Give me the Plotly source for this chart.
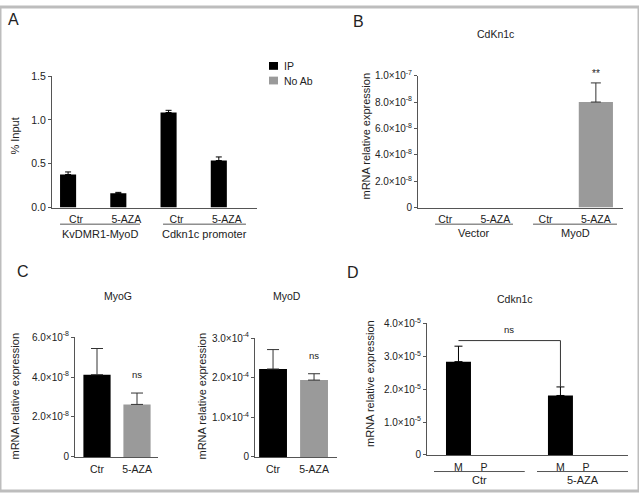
import plotly.graph_objects as go

W, H = 639, 497
def px(x): return x / W
def py(y): return 1 - y / H

FONT = "Liberation Sans, Arial, sans-serif"
TXT = "#222"
AX = "#555"
BLACK = "#000000"
GRAY = "#9a9a9a"

# ---------------- data ----------------
# Panel A (ChIP, % input)
a_cats = ["KvDMR1-MyoD Ctr", "KvDMR1-MyoD 5-AZA", "Cdkn1c promoter Ctr", "Cdkn1c promoter 5-AZA"]
a_ticks = ["Ctr", "5-AZA", "Ctr", "5-AZA"]
a_groups = ["KvDMR1-MyoD", "Cdkn1c promoter"]
a_series = ["IP", "No Ab"]
a_ip = [0.378, 0.163, 1.085, 0.537]
a_ip_err = [0.029, 0.011, 0.025, 0.041]
a_noab = [0.0, 0.0, 0.0, 0.0]
a_yticks = [0.0, 0.5, 1.0, 1.5]
a_yticktext = ["0.0", "0.5", "1.0", "1.5"]

# Panel B (CdKn1c mRNA)
b_cats = ["Vector Ctr", "Vector 5-AZA", "MyoD Ctr", "MyoD 5-AZA"]
b_ticks = ["Ctr", "5-AZA", "Ctr", "5-AZA"]
b_groups = ["Vector", "MyoD"]
b_vals = [0.0, 0.0, 0.0, 8.0e-8]
b_err = [None, None, None, 1.45e-8]
b_yticks = [0, 2e-8, 4e-8, 6e-8, 8e-8, 1e-7]
b_yticktext = ["0", "2.0×10<sup>-8</sup>", "4.0×10<sup>-8</sup>", "6.0×10<sup>-8</sup>",
               "8.0×10<sup>-8</sup>", "1.0×10<sup>-7</sup>"]

# Panel C (MyoG, MyoD mRNA)
c_cats = ["Ctr", "5-AZA"]
c_myog = [4.12e-8, 2.63e-8]
c_myog_err = [1.31e-8, 0.57e-8]
c_myod = [2.22e-4, 1.94e-4]
c_myod_err = [0.49e-4, 0.16e-4]
c1_yticks = [0, 2e-8, 4e-8, 6e-8]
c1_yticktext = ["0", "2.0×10<sup>-8</sup>", "4.0×10<sup>-8</sup>", "6.0×10<sup>-8</sup>"]
c2_yticks = [0, 1e-4, 2e-4, 3e-4]
c2_yticktext = ["0", "1.0×10<sup>-4</sup>", "2.0×10<sup>-4</sup>", "3.0×10<sup>-4</sup>"]

# Panel D (Cdkn1c allelic mRNA)
d_cats = ["Ctr M", "Ctr P", "5-AZA M", "5-AZA P"]
d_order = ["Ctr M", "Ctr P", " ", "  ", "5-AZA M", "5-AZA P"]
d_ticks = ["M", "P", "M", "P"]
d_groups = ["Ctr", "5-AZA"]
d_vals = [2.84e-5, 0.0, 1.81e-5, 0.0]
d_err = [0.47e-5, None, 0.26e-5, None]
d_bracket = 3.48e-5
d_yticks = [0, 1e-5, 2e-5, 3e-5, 4e-5]
d_yticktext = ["0", "1.0×10<sup>-5</sup>", "2.0×10<sup>-5</sup>", "3.0×10<sup>-5</sup>", "4.0×10<sup>-5</sup>"]

# ---------------- figure ----------------
fig = go.Figure()

def add_bars(cats, vals, errs, colors, xa, ya, width, errcolor, capw, name=None, offset=None):
    """Bars with an upward-only error bar; points without an error value get none."""
    groups = [[i for i, e in enumerate(errs) if e is not None],
              [i for i, e in enumerate(errs) if e is None]]
    for k, idx in enumerate(groups):
        if not idx:
            continue
        kw = {}
        if k == 0:
            kw["error_y"] = dict(type="data", array=[errs[i] for i in idx],
                                 arrayminus=[0] * len(idx), symmetric=False,
                                 color=errcolor, thickness=1, width=capw)
        if offset is not None:
            kw["offset"] = offset
        fig.add_trace(go.Bar(x=[cats[i] for i in idx], y=[vals[i] for i in idx],
                             marker=dict(color=[colors[i] for i in idx], line=dict(width=0)),
                             width=width, xaxis=xa, yaxis=ya, showlegend=False,
                             name=name, **kw))

# A
add_bars(a_cats, a_ip, a_ip_err, [BLACK] * 4, "x", "y", 0.32, BLACK, 3, name=a_series[0], offset=-0.32)
add_bars(a_cats, a_noab, [None] * 4, [GRAY] * 4, "x", "y", 0.32, GRAY, 3, name=a_series[1], offset=0)
# B
add_bars(b_cats, b_vals, b_err, [GRAY] * 4, "x2", "y2", 0.68, "#333", 5)
# C
add_bars(c_cats, c_myog, c_myog_err, [BLACK, GRAY], "x3", "y3", 0.68, "#333", 6)
add_bars(c_cats, c_myod, c_myod_err, [BLACK, GRAY], "x4", "y4", 0.68, "#333", 6)
# D
add_bars(d_cats, d_vals, d_err, [BLACK] * 4, "x5", "y5", 0.98, BLACK, 4)

def xax(dom, anchor, cats, ticks, rng, order=None, size=10.5):
    return dict(domain=[px(dom[0]), px(dom[1])], anchor=anchor, type="category",
                categoryorder="array", categoryarray=order if order else cats,
                tickvals=cats, ticktext=ticks, range=rng, showline=True, linecolor=AX,
                linewidth=1, ticks="", showgrid=False, zeroline=False, fixedrange=True,
                tickfont=dict(family=FONT, size=size, color=TXT), ticklabelstandoff=2)

def yax(dom, anchor, rng, tv, tt, size=10):
    return dict(domain=[py(dom[1]), py(dom[0])], anchor=anchor, range=rng, tickvals=tv,
                ticktext=tt, showline=True, linecolor=AX, linewidth=1, ticks="outside",
                ticklen=3, tickcolor=AX, showgrid=False, zeroline=False, fixedrange=True,
                tickfont=dict(family=FONT, size=size, color=TXT))

fig.update_layout(
    xaxis=xax([52, 257], "y", a_cats, a_ticks, [-0.48, 3.6]),
    yaxis=yax([71, 206], "x", [0, 1.5], a_yticks, a_yticktext, size=10.5),
    xaxis2=xax([418, 623], "y2", b_cats, b_ticks, [-0.54, 3.54]),
    yaxis2=yax([70.5, 206], "x2", [0, 1e-7], b_yticks, b_yticktext),
    xaxis3=xax([75, 158], "y3", c_cats, c_cats, [-0.55, 1.525]),
    yaxis3=yax([339, 462], "x3", [0, 6e-8], c1_yticks, c1_yticktext),
    xaxis4=xax([255, 337], "y4", c_cats, c_cats, [-0.44, 1.56]),
    yaxis4=yax([340, 462], "x4", [0, 3e-4], c2_yticks, c2_yticktext),
    xaxis5=xax([427, 628], "y5", d_cats, d_ticks, [-1.235, 6.65], order=d_order),
    yaxis5=yax([325, 460], "x5", [0, 4e-5], d_yticks, d_yticktext),
)

shapes = []
ann = []

def underline(xref, x0, x1, y):
    shapes.append(dict(type="line", xref=xref, yref="paper", x0=x0, x1=x1, y0=py(y), y1=py(y),
                       line=dict(color=AX, width=1)))

def text(t, x, y, size=10.5, xref="paper", yref="paper", angle=0, xanchor="center", yanchor="middle"):
    ann.append(dict(text=t, x=x, y=y, xref=xref, yref=yref, showarrow=False, textangle=angle,
                    xanchor=xanchor, yanchor=yanchor, font=dict(family=FONT, size=size, color=TXT)))

# A group underlines and labels
underline("x", -0.32, 1.27, 223); underline("x", 1.73, 3.38, 223)
text(a_groups[0], (-0.32 + 1.27) / 2, py(233), size=11, xref="x")
text(a_groups[1], (1.73 + 3.38) / 2, py(233), size=11, xref="x")
# B
underline("x2", -0.2, 1.35, 223); underline("x2", 1.75, 3.42, 223)
text(b_groups[0], (-0.2 + 1.35) / 2, py(232), size=11, xref="x2")
text(b_groups[1], (1.75 + 3.42) / 2, py(232), size=11, xref="x2")
# D
underline("x5", -0.96, 2.6, 477); underline("x5", 3.08, 6.65, 477)
text(d_groups[0], (-0.96 + 2.6) / 2, py(486), size=11, xref="x5")
text(d_groups[1], (3.08 + 6.65) / 2, py(486), size=11, xref="x5")

# D bracket
shapes.append(dict(type="line", xref="x5", yref="y5", x0=0, x1=4, y0=d_bracket, y1=d_bracket,
                   line=dict(color="#333", width=1)))
shapes.append(dict(type="line", xref="x5", yref="y5", x0=4, x1=4, y0=d_bracket, y1=d_vals[2] + d_err[2],
                   line=dict(color="#333", width=1)))

# panel A legend (drawn as key squares + labels)
for i, (name, col) in enumerate(zip(a_series, [BLACK, GRAY])):
    yc = 60.5 + 15 * i
    shapes.append(dict(type="rect", xref="paper", yref="paper", x0=px(269), x1=px(278),
                       y0=py(yc + 4), y1=py(yc - 4), fillcolor=col, line=dict(width=0)))
    text(name, px(282), py(yc), size=10.5, xanchor="left")

# significance marks
text("**", "MyoD 5-AZA", py(68), size=10, xref="x2")
text("ns", "5-AZA", py(377), size=9.5, xref="x3")
text("ns", "5-AZA", py(358), size=9.5, xref="x4")
text("ns", 2, py(331), size=9.5, xref="x5")

# titles
text("CdKn1c", px(495), py(28))
text("MyoG", px(118), py(297))
text("MyoD", px(287), py(297))
text("Cdkn1c", px(515), py(300))

# y-axis titles
text("% Input", px(15), py(133), size=11, angle=-90)
text("mRNA relative expression", px(366), py(133), size=11, angle=-90)
text("mRNA relative expression", px(15), py(400), size=11, angle=-90)
text("mRNA relative expression", px(202), py(400), size=11, angle=-90)
text("mRNA relative expression", px(370), py(387), size=11, angle=-90)

# panel letters
text("A", px(13), py(13), size=16)
text("B", px(358), py(15), size=16)
text("C", px(23), py(272), size=16)
text("D", px(353), py(273), size=16)

# outer frame
shapes.append(dict(type="rect", xref="paper", yref="paper", x0=0, x1=1, y0=0, y1=1,
                   line=dict(color="#bdbdbd", width=3)))

fig.update_layout(
    width=W, height=H, margin=dict(l=0, r=0, t=0, b=0),
    paper_bgcolor="white", plot_bgcolor="white",
    barmode="overlay", shapes=shapes, annotations=ann, showlegend=False,
    font=dict(family=FONT, color=TXT),
)

fig.write_html("out.html", config={"displayModeBar": False})

# remove the default page margin so the figure sits at the window's top-left corner
with open("out.html", encoding="utf-8") as f:
    html = f.read()
html = html.replace("<body>", '<body style="margin:0;overflow:hidden">', 1)
with open("out.html", "w", encoding="utf-8") as f:
    f.write(html)
